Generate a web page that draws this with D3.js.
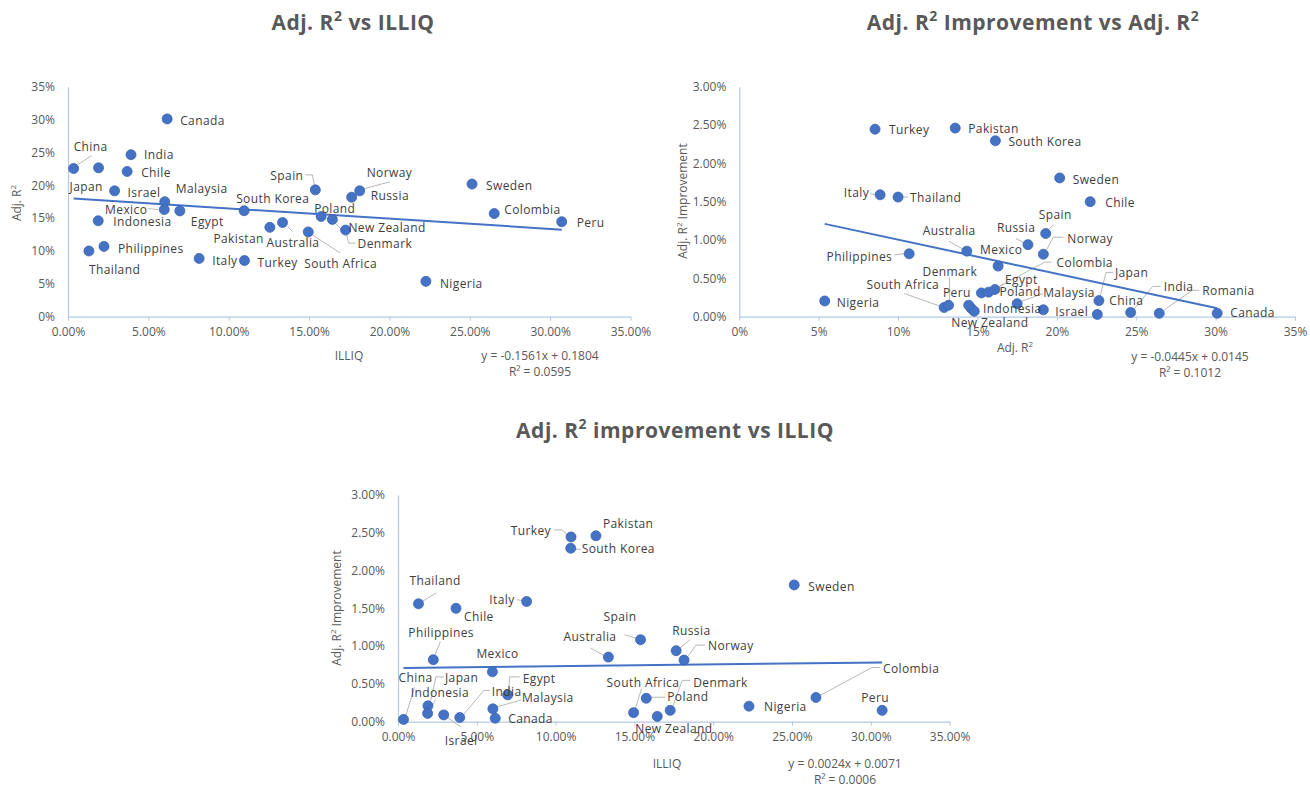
<!DOCTYPE html>
<html>
<head>
<meta charset="utf-8">
<script src="https://cdnjs.cloudflare.com/ajax/libs/d3/7.8.5/d3.min.js"></script>
<style>
  body { margin: 0; background: #ffffff; }
  svg  { font-family: "Open Sans", sans-serif; }
</style>
</head>
<body>
<svg id="chart" width="1310" height="787"></svg>
<script>
/* --------------------------------------------------------- */
/* Data.                    */
/* Romania only appears in the Adj. R2 improvement chart.    */
/* --------------------------------------------------------- */
var countries   = ["China", "Japan", "Indonesia", "Israel", "India", "Chile",
                   "Thailand", "Philippines", "Canada", "Malaysia", "Mexico",
                   "Egypt", "Italy", "Turkey", "South Korea", "Pakistan",
                   "Australia", "South Africa", "Spain", "Poland", "New Zealand",
                   "Denmark", "Russia", "Norway", "Nigeria", "Sweden",
                   "Colombia", "Peru", "Romania"];
var illiq       = [0.0035, 0.0190, 0.0188, 0.0290, 0.0392, 0.0368,
                   0.0130, 0.0224, 0.0617, 0.0602, 0.0599,
                   0.0696, 0.0816, 0.1098, 0.1096, 0.1256,
                   0.1335, 0.1495, 0.1539, 0.1575, 0.1645,
                   0.1727, 0.1765, 0.1815, 0.2227, 0.2514,
                   0.2652, 0.3072, null];
var adjR2       = [0.2255, 0.2265, 0.1460, 0.1915, 0.2465, 0.2210,
                   0.1000, 0.1070, 0.3010, 0.1750, 0.1630,
                   0.1610, 0.0887, 0.0855, 0.1613, 0.1360,
                   0.1433, 0.1290, 0.1930, 0.1525, 0.1480,
                   0.1318, 0.1818, 0.1915, 0.0538, 0.2018,
                   0.1570, 0.1445, 0.2645];
var improvement = [0.00030, 0.00210, 0.00110, 0.00090, 0.00055, 0.01500,
                   0.01560, 0.00820, 0.00045, 0.00170, 0.00660,
                   0.00355, 0.01590, 0.02445, 0.02295, 0.02460,
                   0.00855, 0.00120, 0.01085, 0.00310, 0.00070,
                   0.00150, 0.00940, 0.00815, 0.00205, 0.01810,
                   0.00320, 0.00150, 0.00044];

// Trend lines (slope, intercept) and their R2, as printed on the charts.
var trendSlopes     = [-0.1561, -0.0445, 0.0024];
var trendIntercepts = [ 0.1804,  0.0145, 0.0071];
var trendR2         = ["0.0595", "0.1012", "0.0006"];

// Tick values.
var ticksPct35 = [0, 0.05, 0.10, 0.15, 0.20, 0.25, 0.30, 0.35];
var ticksPct3  = [0, 0.005, 0.010, 0.015, 0.020, 0.025, 0.030];

/* --------------------------------------------------------- */
/* Label layout: [dx, dy, anchor] from the marker centre,    */
/* and leader lines as offsets from the marker centre.       */
/* --------------------------------------------------------- */
var labels1 = { "China": [0, -22], "Japan": [-29, 19], "Israel": [13, 2], "India": [13, 0],
  "Chile": [14, 1], "Canada": [13, 2], "Indonesia": [15, 1], "Philippines": [14, 2],
  "Thailand": [0, 19], "Malaysia": [11, -13], "Mexico": [-17, 0, "end"], "Egypt": [11, 11],
  "Italy": [13, 2], "Turkey": [13, 2], "South Korea": [-8, -12], "Pakistan": [-6, 11, "end"],
  "Australia": [-16, 20], "South Africa": [-4, 32], "Spain": [-12, -14, "end"],
  "Poland": [-7, -8], "New Zealand": [16, 8], "Denmark": [12, 14], "Russia": [19, -1],
  "Norway": [7, -18], "Nigeria": [14, 2], "Sweden": [14, 2], "Colombia": [10, -4],
  "Peru": [15, 1] };
var leaders1 = { "China": [[18, -13], [3, -3]], "Mexico": [[-16, -1], [-6, 0]],
  "Spain": [[-10, -15], [-3, -15], [-1, -5]], "Australia": [[5, 4], [10, 9]],
  "South Africa": [[4, 3], [32, 21]], "New Zealand": [[3, 4], [8, 9], [15, 9]],
  "Denmark": [[10, 13], [3, 13], [1, 4]], "Norway": [[30, -9], [4, -2]] };

var labels2 = { "Turkey": [14, 1], "Pakistan": [13, 1], "South Korea": [13, 1],
  "Italy": [-11, -2, "end"], "Thailand": [12, 1], "Sweden": [13, 2], "Chile": [15, 1],
  "Spain": [-7, -19], "Russia": [-31, -17], "Norway": [24, -15], "Australia": [-44, -20],
  "Mexico": [-18, -16], "Philippines": [-17, 3, "end"], "Nigeria": [12, 2],
  "South Africa": [-5, -23, "end"], "Denmark": [-26, -33], "Peru": [2, -12, "end"],
  "Indonesia": [12, 1], "New Zealand": [-23, 11], "Egypt": [10, -10], "Poland": [18, -1],
  "Colombia": [68, -29], "Malaysia": [26, -11], "Israel": [12, 2], "Japan": [16, -28],
  "China": [12, -14], "India": [33, -26], "Romania": [43, -23], "Canada": [13, 0] };
var leaders2 = { "Italy": [[-10, -1], [-4, 0]], "Thailand": [[4, 0], [10, 0]],
  "Spain": [[8, -9], [1, -2]], "Russia": [[-12, -6], [-2, -1]],
  "Norway": [[20, -17], [10, -17], [2, -2]], "Australia": [[-18, -10], [-2, -1]],
  "Philippines": [[-15, 1], [-5, 0]], "South Africa": [[-40, -14], [-3, -1]],
  "Denmark": [[1, -28], [1, -3]], "Egypt": [[9, -6], [3, -2]],
  "Colombia": [[63, -30], [56, -30], [4, -2]], "Malaysia": [[26, -10], [3, -2]],
  "Japan": [[14, -28], [7, -28], [1, -3]], "India": [[30, -26], [22, -26], [2, -2]],
  "Romania": [[40, -23], [33, -23], [3, -2]] };

var labels3 = { "China": [-5, -42], "Japan": [17, -28], "Indonesia": [-17, -21],
  "Israel": [1, 26], "India": [32, -26], "Thailand": [-9, -23], "Chile": [8, 8],
  "Philippines": [-25, -27], "Mexico": [-16, -18], "Egypt": [15, -16], "Malaysia": [29, -11],
  "Canada": [13, 1], "Italy": [-12, -2, "end"], "Turkey": [-20, -6, "end"],
  "South Korea": [11, 1], "Pakistan": [7, -12], "Australia": [8, -20, "end"],
  "Spain": [-4, -23, "end"], "South Africa": [-27, -30], "Poland": [21, -1],
  "Denmark": [23, -28], "New Zealand": [-22, 12], "Russia": [-4, -20], "Norway": [24, -14],
  "Nigeria": [15, 1], "Sweden": [14, 2], "Colombia": [67, -29], "Peru": [-21, -13] };
var leaders3 = { "China": [[11, -32], [2, -3]], "Japan": [[16, -29], [8, -29], [2, -2]],
  "Indonesia": [[8, -14], [2, -3]], "Israel": [[3, 2], [17, 12]],
  "India": [[30, -27], [24, -27], [3, -2]], "Thailand": [[18, -11], [3, -2]],
  "Philippines": [[7, -18], [1, -3]], "Egypt": [[12, -18], [2, -18], [1, -5]],
  "Malaysia": [[29, -9], [4, -2]], "Italy": [[-10, -2], [-5, -1]],
  "Turkey": [[-17, -7], [-9, -7], [-2, -1]], "South Korea": [[4, 1], [10, 1]],
  "Australia": [[-18, -9], [-3, -1]], "Spain": [[-16, -5], [-3, -1]],
  "South Africa": [[8, -24], [1, -2]], "Poland": [[5, -1], [19, -1]],
  "Denmark": [[20, -30], [12, -30], [2, -2]], "Russia": [[14, -11], [3, -2]],
  "Norway": [[21, -15], [12, -15], [2, -1]], "Colombia": [[64, -30], [56, -30], [4, -2]] };

/* --------------------------------------------------------- */
/* Chart settings.                                           */
/* --------------------------------------------------------- */
var charts = [
  { title: ["Adj. R", "2", " vs ILLIQ"], titlePos: [353, 23],
    xs: illiq, ys: adjR2, xRange: [68, 630.5], yRange: [316.7, 86.7],
    xTicks: ticksPct35, yTicks: ticksPct35, xFmt: ".2%", yFmt: ".0%",
    xTitle: ["ILLIQ"], xTitlePos: [349, 356], yTitle: ["Adj. R", "2"], yTitlePos: [17, 203],
    eqPos: [540, 356], trend: 0, labels: labels1, leaders: leaders1 },
  { title: ["Adj. R", "2", " Improvement vs Adj. R", "2"], titlePos: [1033, 23],
    xs: adjR2, ys: improvement, xRange: [739.3, 1295], yRange: [316.7, 86.7],
    xTicks: ticksPct35, yTicks: ticksPct3, xFmt: ".0%", yFmt: ".2%",
    xTitle: ["Adj. R", "2"], xTitlePos: [1015, 348], yTitle: ["Adj. R", "2", " Improvement"],
    yTitlePos: [683, 201], eqPos: [1190, 357], trend: 1, labels: labels2, leaders: leaders2 },
  { title: ["Adj. R", "2", " improvement vs ILLIQ"], titlePos: [675, 431],
    xs: illiq, ys: improvement, xRange: [398, 949.6], yRange: [721.7, 495],
    xTicks: ticksPct35, yTicks: ticksPct3, xFmt: ".2%", yFmt: ".2%",
    xTitle: ["ILLIQ"], xTitlePos: [667, 764], yTitle: ["Adj. R", "2", " Improvement"],
    yTitlePos: [337, 608], eqPos: [845, 764], trend: 2, labels: labels3, leaders: leaders3 }
];

var svg = d3.select("#chart");

// Text with every second part set as superscript.
function richText(sel, parts, supSize) {
    parts.forEach(function(p, i) {
        var t = sel.append("tspan").text(p);
        if (i % 2 == 1) { t.attr("font-size", supSize).attr("baseline-shift", "super"); }
    });
    return sel;
}

function drawChart(c) {
    var g = svg.append("g");
    var x = d3.scaleLinear().domain([0, c.xTicks[c.xTicks.length - 1]]).range(c.xRange);
    var y = d3.scaleLinear().domain([0, c.yTicks[c.yTicks.length - 1]]).range(c.yRange);

    // Title.
    richText(g.append("text")
        .attr("x", c.titlePos[0]).attr("y", c.titlePos[1]).attr("dy", "0.35em")
        .attr("text-anchor", "middle").attr("font-size", 21).attr("font-weight", "bold")
        .attr("letter-spacing", 0.5).attr("fill", "#595959"), c.title, 14);

    // Axes.
    var gx = g.append("g").attr("transform", "translate(0," + c.yRange[0] + ")")
        .call(d3.axisBottom(x).tickValues(c.xTicks).tickFormat(d3.format(c.xFmt))
              .tickSizeInner(4).tickSizeOuter(0).tickPadding(7));
    var gy = g.append("g").attr("transform", "translate(" + c.xRange[0] + ",0)")
        .call(d3.axisLeft(y).tickValues(c.yTicks).tickFormat(d3.format(c.yFmt))
              .tickSize(0).tickPadding(13));
    [gx, gy].forEach(function(a) {
        a.select(".domain").attr("stroke", "#b4c7e7").attr("stroke-width", 1.2);
        a.selectAll(".tick line").attr("stroke", "#b4c7e7");
        a.selectAll(".tick text").attr("fill", "#595959").attr("font-size", 12)
         .attr("font-family", "Open Sans, sans-serif");
    });

    // Axis titles.
    richText(g.append("text").attr("x", c.xTitlePos[0]).attr("y", c.xTitlePos[1])
        .attr("dy", "0.35em").attr("text-anchor", "middle").attr("font-size", 12)
        .attr("fill", "#595959"), c.xTitle, 8);
    richText(g.append("text")
        .attr("transform", "translate(" + c.yTitlePos[0] + "," + c.yTitlePos[1] + ") rotate(-90)")
        .attr("dy", "0.35em").attr("text-anchor", "middle").attr("font-size", 12)
        .attr("fill", "#595959"), c.yTitle, 8);

    // Points that have both values.
    var pts = [];
    for (var i = 0; i < countries.length; i++) {
        if (c.xs[i] != null && c.ys[i] != null) {
            pts.push({ name: countries[i], px: x(c.xs[i]), py: y(c.ys[i]), xv: c.xs[i] });
        }
    }

    // Leader lines.
    pts.forEach(function(p) {
        var l = c.leaders[p.name];
        if (!l) return;
        g.append("path")
            .attr("d", d3.line()(l.map(function(o) { return [p.px + o[0], p.py + o[1]]; })))
            .attr("fill", "none").attr("stroke", "#a6a6a6").attr("stroke-width", 0.8);
    });

    // Linear trend line, from the smallest to the largest x.
    var ext = d3.extent(pts, function(p) { return p.xv; });
    var k = c.trend;
    g.append("line")
        .attr("x1", x(ext[0])).attr("y1", y(trendSlopes[k] * ext[0] + trendIntercepts[k]))
        .attr("x2", x(ext[1])).attr("y2", y(trendSlopes[k] * ext[1] + trendIntercepts[k]))
        .attr("stroke", "#4472c4").attr("stroke-width", 2);

    // Markers.
    g.selectAll("circle.pt").data(pts).enter().append("circle")
        .attr("class", "pt")
        .attr("cx", function(d) { return d.px; }).attr("cy", function(d) { return d.py; })
        .attr("r", 5).attr("fill", "#4472c4").attr("stroke", "#3b65b3").attr("stroke-width", 0.8);

    // Data labels.
    g.selectAll("text.lbl").data(pts).enter().append("text")
        .attr("class", "lbl")
        .attr("x", function(d) { return d.px + (c.labels[d.name] || [12, 0])[0]; })
        .attr("y", function(d) { return d.py + (c.labels[d.name] || [12, 0])[1]; })
        .attr("dy", "0.35em")
        .attr("text-anchor", function(d) { return (c.labels[d.name] || [])[2] || "start"; })
        .attr("font-size", 12).attr("letter-spacing", 0.4).attr("fill", "#404040")
        .text(function(d) { return d.name; });

    // Trend line equation.
    var s = trendSlopes[k], b = trendIntercepts[k];
    var eq = "y = " + d3.format(".4f")(s).replace("−", "-") + "x + " + d3.format(".4f")(b);
    g.append("text").attr("x", c.eqPos[0]).attr("y", c.eqPos[1]).attr("dy", "0.35em")
        .attr("text-anchor", "middle").attr("font-size", 12).attr("fill", "#595959").text(eq);
    g.append("text").attr("x", c.eqPos[0]).attr("y", c.eqPos[1] + 16).attr("dy", "0.35em")
        .attr("text-anchor", "middle").attr("font-size", 12).attr("fill", "#595959")
        .text("R² = " + trendR2[k]);
}

charts.forEach(drawChart);
</script>
</body>
</html>
